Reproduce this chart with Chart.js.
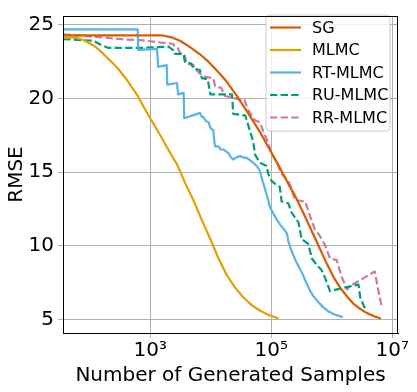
<!DOCTYPE html>
<html>
<head>
<meta charset="utf-8">
<script src="https://cdn.jsdelivr.net/npm/chart.js@4"></script>
<style>
  html, body { margin: 0; padding: 0; background: #fff; }
  #wrap { width: 417px; height: 392px; }
</style>
</head>
<body>
<div id="wrap"><canvas id="rmseChart" width="417" height="392"></canvas></div>
<script>
// Sample counts are kept as log10 exponents
const seriesNames = ['SG', 'MLMC', 'RT-MLMC', 'RU-MLMC', 'RR-MLMC'];

const sgLogN = [1.56, 3.19, 3.35, 3.49, 3.65, 3.82, 3.96, 4.10, 4.25, 4.43, 4.60, 4.80, 4.95, 5.14, 5.28, 5.39, 5.52, 5.65, 5.78, 5.92, 6.03, 6.14, 6.25, 6.36, 6.47, 6.58, 6.70, 6.81];
const sgRmse = [24.29, 24.29, 24.15, 23.92, 23.5, 23.0, 22.5, 21.9, 21.2, 20.17, 19.1, 17.8, 16.7, 15.3, 14.2, 13.4, 12.3, 11.15, 10.0, 8.75, 7.85, 7.14, 6.55, 6.04, 5.7, 5.42, 5.2, 5.05];

const mlmcLogN = [1.56, 1.78, 1.90, 2.06, 2.17, 2.28, 2.45, 2.61, 2.78, 2.94, 3.05, 3.16, 3.30, 3.44, 3.57, 3.71, 3.85, 3.99, 4.12, 4.26, 4.40, 4.54, 4.68, 4.81, 4.95, 5.12];
const mlmcRmse = [24.14, 24.12, 23.95, 23.6, 23.25, 22.8, 22.1, 21.27, 20.25, 19.06, 18.3, 17.52, 16.5, 15.53, 14.3, 13.1, 11.75, 10.45, 9.2, 8.03, 7.15, 6.48, 5.95, 5.6, 5.3, 5.05];

const rtLogN = [1.56, 2.79, 2.80, 3.11, 3.13, 3.27, 3.28, 3.44, 3.46, 3.55, 3.56, 3.70, 3.82, 3.85, 3.88, 3.92, 3.96, 4.00, 4.04, 4.06, 4.07, 4.12, 4.16, 4.21, 4.25, 4.30, 4.33, 4.37, 4.42, 4.48, 4.54, 4.59, 4.65, 4.70, 4.76, 4.81, 4.84, 4.87, 4.92, 4.98, 5.03, 5.09, 5.15, 5.23, 5.26, 5.28, 5.34, 5.40, 5.47, 5.53, 5.59, 5.64, 5.69, 5.77, 5.86, 5.94, 6.02, 6.10, 6.18];
const rtRmse = [24.69, 24.69, 23.3, 23.37, 22.15, 22.26, 20.94, 21.05, 20.28, 20.38, 18.66, 18.85, 19.02, 18.75, 18.73, 18.45, 18.4, 17.95, 17.85, 17.0, 16.74, 16.75, 16.55, 16.52, 16.4, 16.25, 16.0, 15.86, 16.0, 16.08, 16.0, 15.97, 15.8, 15.64, 15.4, 15.09, 14.6, 14.2, 13.5, 12.6, 12.2, 11.77, 11.4, 11.0, 10.8, 10.3, 9.57, 9.0, 8.46, 7.95, 7.36, 6.95, 6.59, 6.2, 5.81, 5.55, 5.38, 5.25, 5.15];

const ruLogN = [1.56, 2.06, 2.20, 2.31, 2.83, 3.30, 3.38, 3.40, 3.55, 3.57, 3.68, 3.71, 3.82, 3.85, 3.95, 3.99, 4.35, 4.37, 4.57, 4.65, 4.70, 4.73, 4.81, 4.92, 4.95, 5.00, 5.09, 5.14, 5.17, 5.28, 5.34, 5.45, 5.50, 5.61, 5.67, 5.75, 5.83, 5.89, 5.97, 6.19, 6.44, 6.47, 6.55];
const ruRmse = [24.03, 23.92, 23.6, 23.43, 23.43, 23.52, 23.26, 23.03, 23.03, 22.48, 22.37, 22.04, 21.93, 21.38, 21.3, 20.28, 20.28, 18.95, 18.84, 17.74, 17.07, 16.19, 15.64, 15.42, 14.87, 14.42, 14.09, 14.0, 13.0, 12.88, 12.22, 11.56, 10.45, 10.12, 9.13, 8.69, 8.35, 7.8, 6.92, 7.14, 7.36, 6.48, 5.71];

const rrLogN = [1.56, 2.22, 2.58, 2.83, 3.38, 3.40, 3.45, 3.50, 3.57, 3.60, 3.71, 3.76, 3.87, 4.04, 4.07, 4.17, 4.23, 4.35, 4.45, 4.55, 4.62, 4.73, 4.81, 4.89, 4.95, 5.00, 5.09, 5.17, 5.28, 5.34, 5.39, 5.56, 5.64, 5.72, 5.80, 5.89, 5.97, 6.08, 6.16, 6.25, 6.30, 6.71, 6.77, 6.82];
const rrRmse = [24.36, 24.14, 24.0, 23.96, 23.7, 23.52, 23.45, 23.03, 22.9, 22.37, 22.26, 21.93, 21.49, 21.38, 20.83, 20.72, 20.17, 20.05, 19.95, 19.95, 19.2, 18.51, 18.4, 17.52, 16.97, 16.3, 15.64, 14.87, 14.42, 13.76, 13.1, 13.0, 12.0, 11.11, 10.68, 10.01, 9.13, 9.02, 7.9, 7.03, 7.25, 8.25, 6.92, 5.93];

const xTicks = [1e3, 1e5, 1e7];
const xTickLabels = ['10\u00B3', '10\u2075', '10\u2077'];
const yTicks = [5, 10, 15, 20, 25];

const colors = {
  sg: '#d55e00',
  mlmc: '#e69f00',
  rt: '#56b4e9',
  ru: '#009e73',
  rr: '#cc79a7'
};
const FONT = 'DejaVu Sans';

function toPoints(logN, rmse) {
  return logN.map((e, i) => ({ x: Math.pow(10, e), y: rmse[i] }));
}

function makeSet(label, logN, rmse, color, dashed) {
  return {
    label: label,
    data: toPoints(logN, rmse),
    borderColor: color,
    backgroundColor: color,
    borderWidth: 2.2,
    borderDash: dashed ? [7.4, 3.2] : [],
    borderJoinStyle: 'round',
    pointRadius: 0,
    tension: 0,
    fill: false
  };
}

// Top/right spines plus the boxed legend inside the plot
const framePlugin = {
  id: 'frame',
  afterDatasetsDraw(chart) {
    const ctx = chart.ctx;
    const a = chart.chartArea;
    ctx.save();

    // legend box
    const bx = 266, by = 15, bw = 124, bh = 116, r = 4;
    ctx.beginPath();
    ctx.moveTo(bx + r, by);
    ctx.arcTo(bx + bw, by, bx + bw, by + bh, r);
    ctx.arcTo(bx + bw, by + bh, bx, by + bh, r);
    ctx.arcTo(bx, by + bh, bx, by, r);
    ctx.arcTo(bx, by, bx + bw, by, r);
    ctx.closePath();
    ctx.fillStyle = 'rgba(255,255,255,0.8)';
    ctx.fill();
    ctx.strokeStyle = '#cccccc';
    ctx.lineWidth = 1;
    ctx.stroke();

    const rowY = [27.5, 50, 72.5, 95, 117.5];
    chart.data.datasets.forEach((ds, i) => {
      const y = rowY[i];
      ctx.beginPath();
      ctx.setLineDash(ds.borderDash || []);
      ctx.strokeStyle = ds.borderColor;
      ctx.lineWidth = 2.2;
      ctx.moveTo(270, y);
      ctx.lineTo(301, y);
      ctx.stroke();
      ctx.setLineDash([]);
      ctx.fillStyle = '#000';
      ctx.font = '16px "' + FONT + '"';
      ctx.textBaseline = 'middle';
      ctx.textAlign = 'left';
      ctx.fillText(ds.label, 312, y + 1);
    });

    // spines
    ctx.strokeStyle = '#000';
    ctx.lineWidth = 1;
    ctx.strokeRect(Math.round(a.left) + 0.5, Math.round(a.top) + 0.5,
      Math.round(a.right - a.left) - 1, Math.round(a.bottom - a.top));
    ctx.restore();
  }
};

new Chart(document.getElementById('rmseChart').getContext('2d'), {
  type: 'line',
  data: {
    datasets: [
      makeSet(seriesNames[0], sgLogN, sgRmse, colors.sg, false),
      makeSet(seriesNames[1], mlmcLogN, mlmcRmse, colors.mlmc, false),
      makeSet(seriesNames[2], rtLogN, rtRmse, colors.rt, false),
      makeSet(seriesNames[3], ruLogN, ruRmse, colors.ru, true),
      makeSet(seriesNames[4], rrLogN, rrRmse, colors.rr, true)
    ]
  },
  options: {
    responsive: false,
    animation: false,
    layout: {
      padding: { top: 8, right: 19, left: 0, bottom: 0 }
    },
    plugins: {
      legend: { display: false },
      tooltip: { enabled: false }
    },
    scales: {
      x: {
        type: 'logarithmic',
        min: 36,
        max: 1.24e7,
        afterBuildTicks: scale => {
          scale.ticks = xTicks.map(v => ({ value: v }));
        },
        afterFit: scale => {
          scale.height = 59;
        },
        ticks: {
          autoSkip: false,
          maxRotation: 0,
          padding: 1,
          color: '#000',
          font: { family: FONT, size: 20 },
          callback: function(value) {
            const i = xTicks.indexOf(value);
            return i >= 0 ? xTickLabels[i] : '';
          }
        },
        grid: {
          color: '#b0b0b0',
          lineWidth: 1,
          tickLength: 5
        },
        border: { display: true, color: '#000' },
        title: {
          display: true,
          text: 'Number of Generated Samples',
          color: '#000',
          font: { family: FONT, size: 20 },
          padding: { top: 0, bottom: 4 }
        }
      },
      y: {
        type: 'linear',
        min: 4.07,
        max: 25.6,
        afterBuildTicks: scale => {
          scale.ticks = yTicks.map(v => ({ value: v }));
        },
        afterFit: scale => {
          scale.width = 63;
        },
        ticks: {
          padding: 4,
          color: '#000',
          font: { family: FONT, size: 20 }
        },
        grid: {
          color: '#b0b0b0',
          lineWidth: 1,
          tickLength: 5
        },
        border: { display: true, color: '#000' },
        title: {
          display: true,
          text: 'RMSE',
          color: '#000',
          font: { family: FONT, size: 20 },
          padding: { top: 5, bottom: 0 }
        }
      }
    }
  },
  plugins: [framePlugin]
});
</script>
</body>
</html>
